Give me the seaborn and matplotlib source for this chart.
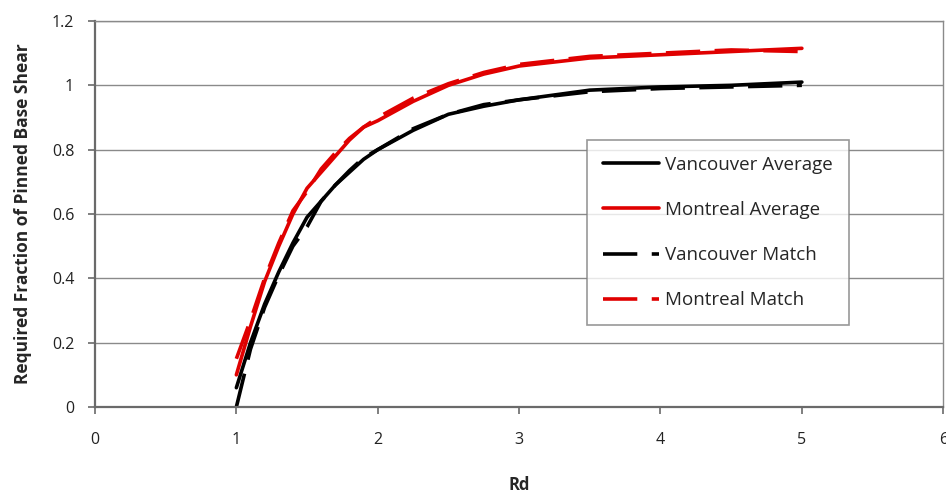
import matplotlib
matplotlib.use("Agg")
import matplotlib.pyplot as plt
import seaborn as sns
import pandas as pd

# Rd values shared by all four curves
rd = [1.0, 1.1, 1.2, 1.3, 1.4, 1.5, 1.6, 1.7, 1.8, 1.9, 2.0,
      2.25, 2.5, 2.75, 3.0, 3.5, 4.0, 4.5, 5.0]

vancouver_average = [0.06, 0.20, 0.32, 0.42, 0.51, 0.59, 0.64, 0.69, 0.73, 0.77, 0.80,
                     0.86, 0.91, 0.935, 0.955, 0.985, 0.995, 1.0, 1.01]
montreal_average = [0.10, 0.25, 0.39, 0.50, 0.60, 0.68, 0.73, 0.78, 0.83, 0.87, 0.89,
                    0.95, 1.00, 1.035, 1.06, 1.085, 1.095, 1.105, 1.115]
vancouver_match = [0.0, 0.18, 0.31, 0.41, 0.50, 0.56, 0.64, 0.69, 0.735, 0.775, 0.80,
                   0.865, 0.91, 0.94, 0.955, 0.98, 0.99, 0.995, 1.0]
montreal_match = [0.15, 0.27, 0.40, 0.51, 0.61, 0.67, 0.74, 0.79, 0.835, 0.87, 0.90,
                  0.96, 1.005, 1.04, 1.065, 1.09, 1.10, 1.11, 1.105]

series_names = ["Vancouver Average", "Montreal Average", "Vancouver Match", "Montreal Match"]
series_values = [vancouver_average, montreal_average, vancouver_match, montreal_match]

x_ticks = [0, 1, 2, 3, 4, 5, 6]
y_ticks = [0, 0.2, 0.4, 0.6, 0.8, 1.0, 1.2]
y_tick_labels = ["0", "0.2", "0.4", "0.6", "0.8", "1", "1.2"]

rows = []
for name, vals in zip(series_names, series_values):
    for x, y in zip(rd, vals):
        rows.append({"Rd": x, "value": y, "series": name})
df = pd.DataFrame(rows)

sns.set_theme(style="white")
plt.rcParams["font.family"] = ["Open Sans", "DejaVu Sans"]

fig = plt.figure(figsize=(9.46, 4.96), dpi=100)
ax = fig.add_axes([0.1004, 0.1794, 0.8967, 0.7783])

palette = {"Vancouver Average": "black", "Montreal Average": "#e00000",
           "Vancouver Match": "black", "Montreal Match": "#e00000"}
dash_map = {"Vancouver Average": "", "Montreal Average": "",
            "Vancouver Match": (9.5, 4), "Montreal Match": (9.5, 4)}

sns.lineplot(data=df, x="Rd", y="value", hue="series", style="series",
             hue_order=series_names, style_order=series_names,
             palette=palette, dashes=dash_map, linewidth=2.6,
             estimator=None, sort=False, ax=ax)

ax.set_xlim(0, 6)
ax.set_ylim(0, 1.2)
ax.set_xticks(x_ticks)
ax.set_yticks(y_ticks)
ax.set_yticklabels(y_tick_labels)

ax.yaxis.grid(True, color="#8a8a8a", linewidth=1.0)
ax.xaxis.grid(False)
ax.set_axisbelow(True)

for side in ["left", "bottom"]:
    ax.spines[side].set_color("#6a6a6a")
    ax.spines[side].set_linewidth(1.6)
for side in ["top", "right"]:
    ax.spines[side].set_color("#8a8a8a")
    ax.spines[side].set_linewidth(1.0)

ax.tick_params(axis="both", which="major", direction="out", length=5, width=1.2,
               color="#6a6a6a", labelsize=11.5, labelcolor="#222222")
ax.tick_params(axis="x", pad=13, bottom=True)
ax.tick_params(axis="y", pad=10, left=True)

ax.set_xlabel("Rd", fontsize=12, fontweight="bold", labelpad=20)
ax.set_ylabel("Required Fraction of Pinned Base Shear", fontsize=12.5,
              fontweight="bold", labelpad=14)

leg = ax.legend(loc="upper left", bbox_to_anchor=(0.5797, 0.2, 0.309, 0.492),
                mode="expand", frameon=True, fancybox=False, fontsize=13.5,
                handlelength=3.0, handletextpad=0.3, labelspacing=1.45,
                borderpad=0.85, borderaxespad=0)
leg.get_frame().set_edgecolor("#7f7f7f")
leg.get_frame().set_linewidth(1.2)
for line in leg.get_lines():
    line.set_linewidth(2.6)

fig.savefig("out.png", dpi=100)
